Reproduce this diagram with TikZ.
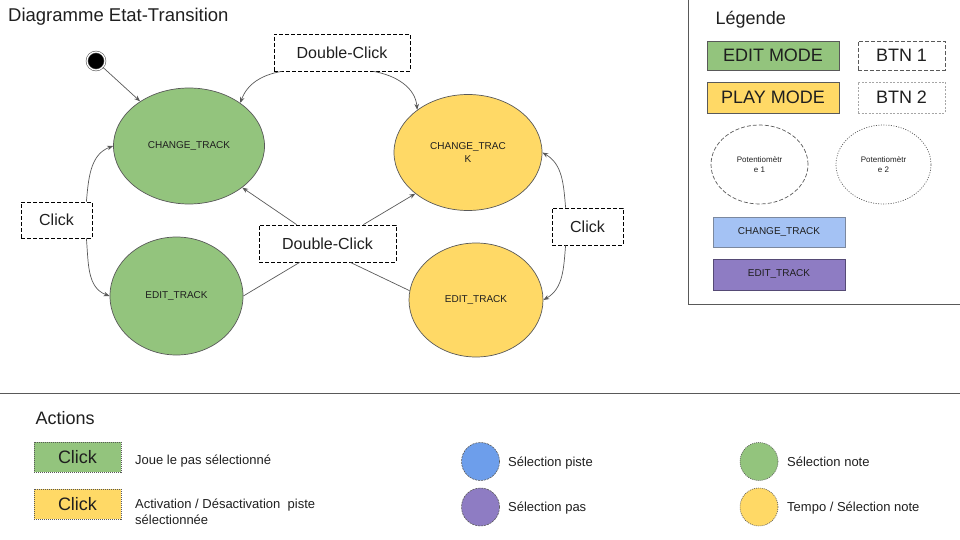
\documentclass[tikz,border=0pt]{standalone}
\usepackage{fontspec}
\setmainfont{Liberation Sans}
\usetikzlibrary{shapes.geometric,arrows.meta}

\definecolor{editgreen}{HTML}{93C47D}
\definecolor{playyellow}{HTML}{FFD966}
\definecolor{trackblue}{HTML}{A4C2F4}
\definecolor{pisteblue}{HTML}{6D9EEB}
\definecolor{stepviolet}{HTML}{8E7CC3}
\definecolor{edgegray}{HTML}{595959}
\definecolor{inkgray}{HTML}{1F1F1F}

\newcommand{\txtsize}[1]{\fontsize{#1}{1.25\dimexpr#1pt\relax}\selectfont}

\begin{document}
\begin{tikzpicture}[x=1pt, y=-1pt,
    statenode/.style={ellipse, draw=edgegray, line width=0.7pt, inner sep=0pt, text=inkgray, font=\txtsize{10}},
    btnbox/.style={draw=black, dash pattern=on 4pt off 2pt, line width=0.8pt, inner sep=0pt, text=inkgray, font=\txtsize{16}},
    modebox/.style={draw=edgegray, line width=0.9pt, inner sep=0pt, minimum width=132, text=inkgray, font=\txtsize{18}},
    trackbox/.style={draw=edgegray, line width=0.9pt, inner sep=0pt, minimum width=132, text=inkgray, font=\txtsize{10}},
    actbox/.style={draw=edgegray, dash pattern=on 1pt off 1pt, line width=0.6pt, inner sep=0pt, minimum width=87, minimum height=30, text=inkgray, font=\txtsize{18}},
    actdot/.style={circle, draw=edgegray, dash pattern=on 2pt off 1pt, line width=0.6pt, inner sep=0pt, minimum size=38},
    caption/.style={anchor=base west, inner sep=0pt, text=inkgray, font=\txtsize{13}},
    arr/.style={draw=edgegray, line width=0.7pt, -{Stealth[length=6pt,width=4.5pt]}},
    link/.style={draw=edgegray, line width=0.7pt}]
    \useasboundingbox (0,0) rectangle (960,540);

    % Title
    \node[anchor=base west, inner sep=0pt, text=inkgray, font=\txtsize{18.5}] (title) at (8,21.5) {Diagramme Etat-Transition};

    % Draw States
    \node[circle, fill=black, draw=edgegray, line width=0.6pt, double=white, double distance=1.2pt, minimum size=18, inner sep=0pt] (init) at (96,61) {};
    \node[statenode, fill=editgreen, minimum width=151, minimum height=116] (chgG) at (189,146) {CHANGE\_TRACK};
    \node[statenode, fill=editgreen, minimum width=133, minimum height=118] (editG) at (176.5,296) {EDIT\_TRACK};
    \node[statenode, fill=playyellow, minimum width=148, minimum height=116, align=center] (chgY) at (468,152.5) {CHANGE\_TRAC\\K};
    \node[statenode, fill=playyellow, minimum width=134, minimum height=114] (editY) at (476,300) {EDIT\_TRACK};

    % Draw Buttons
    \node[btnbox, minimum width=136, minimum height=37] (dcTop) at (342,52.5) {Double-Click};
    \node[btnbox, minimum width=71, minimum height=36] (clickL) at (56.5,220) {Click};
    \node[btnbox, minimum width=137, minimum height=37] (dcMid) at (327.5,243.5) {Double-Click};
    \node[btnbox, minimum width=71, minimum height=37] (clickR) at (587.5,226.5) {Click};

    % Transitions
    % -- initial
    \draw[arr] (init) -- (chgG);
    % -- top double-click
    \draw[arr] ([xshift=8pt]dcTop.south west) to[out=190, in=70] (chgG.40);
    \draw[arr] ([xshift=-37pt]dcTop.south east) to[out=-10, in=95] (chgY.140);
    % -- left click
    \draw[arr] ([xshift=-6pt]clickL.north east) to[out=85, in=200] (chgG.west);
    \draw[arr] ([xshift=-6pt]clickL.south east) to[out=-85, in=160] (editG.west);
    % -- right click
    \draw[arr] ([xshift=14pt]clickR.north west) to[out=95, in=-30] (chgY.east);
    \draw[arr] ([xshift=14pt]clickR.south west) to[out=-95, in=30] (editY.east);
    % -- middle double-click
    \draw[link] (editG.east) -- ([xshift=41pt]dcMid.south west);
    \draw[arr] ([xshift=38pt]dcMid.north west) -- (chgG.-38);
    \draw[arr] ([xshift=-33pt]dcMid.north east) -- (chgY.218);
    \draw[link] ([xshift=-46pt]dcMid.south east) -- (editY.172);

    % Legend
    \draw[edgegray, line width=0.9pt] (688,-2) -- (688,304) -- (962,304);
    \node[anchor=base west, inner sep=0pt, text=inkgray, font=\txtsize{18}] (legTitle) at (715.5,25) {Légende};
    \node[modebox, fill=editgreen, minimum height=29] (editMode) at (773,55.5) {EDIT MODE};
    \node[btnbox, font=\txtsize{18}, draw=edgegray, line width=0.6pt, minimum width=87, minimum height=29] (btnOne) at (901.5,55.5) {BTN 1};
    \node[modebox, fill=playyellow, minimum height=31] (playMode) at (773,97.5) {PLAY MODE};
    \node[btnbox, font=\txtsize{18}, draw=gray!70, dash pattern=on 2pt off 1.5pt, line width=0.6pt, minimum width=87, minimum height=31] (btnTwo) at (901.5,97.5) {BTN 2};
    \node[statenode, draw=edgegray, dash pattern=on 4pt off 2pt, align=center, font=\txtsize{8}, minimum width=97, minimum height=79] (potOne) at (759.5,164.5) {Potentiomètr\\e 1};
    \node[statenode, draw=edgegray, dash pattern=on 1pt off 1.5pt, align=center, font=\txtsize{8}, minimum width=95, minimum height=79] (potTwo) at (883.5,164.5) {Potentiomètr\\e 2};
    \node[trackbox, fill=trackblue, draw=trackblue!55!black!80, minimum height=30] (legChg) at (779,232) {CHANGE\_TRACK};
    \node[trackbox, fill=stepviolet, draw=stepviolet!60!black, minimum height=31] (legEdit) at (779,274.5) {EDIT\_TRACK};

    % Actions
    \draw[edgegray, line width=0.9pt] (-2,393) -- (962,393);
    \node[anchor=base west, inner sep=0pt, text=inkgray, font=\txtsize{18}] (actTitle) at (35.5,424.3) {Actions};
    % -- buttons
    \node[actbox, fill=editgreen] (clickGreen) at (77.5,457) {Click};
    \node[actbox, fill=playyellow] (clickYellow) at (77.5,504) {Click};
    \node[caption] (playStep) at (135,464) {Joue le pas sélectionné};
    \node[caption, align=left] (togglePiste) at (135,524.3) {Activation / Désactivation\ \ piste\\sélectionnée};
    % -- potentiometers
    \node[actdot, fill=pisteblue] (dotBlue) at (480.5,461.5) {};
    \node[actdot, fill=stepviolet] (dotViolet) at (480.5,507) {};
    \node[actdot, fill=editgreen, dash pattern=on 1pt off 1pt] (dotGreen) at (759,461.5) {};
    \node[actdot, fill=playyellow, dash pattern=on 1pt off 1pt] (dotYellow) at (759,507) {};
    \node[caption] (selPiste) at (508,466) {Sélection piste};
    \node[caption] (selPas) at (508,511.7) {Sélection pas};
    \node[caption] (selNote) at (787,466) {Sélection note};
    \node[caption] (selTempo) at (787,511.7) {Tempo / Sélection note};
\end{tikzpicture}
\end{document}
